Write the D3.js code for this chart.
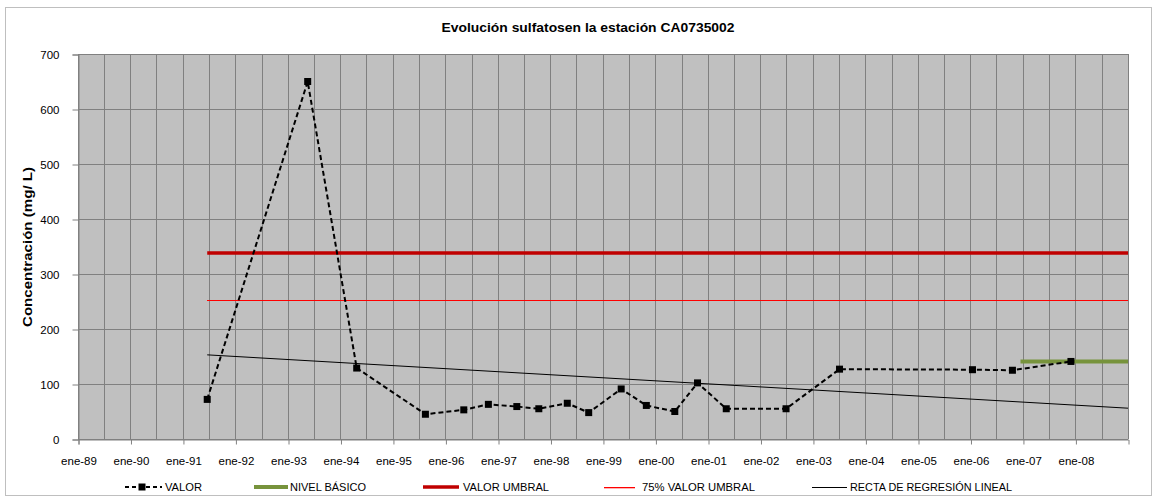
<!DOCTYPE html>
<html>
<head>
<meta charset="utf-8">
<script src="https://cdn.jsdelivr.net/npm/d3@7"></script>
<style>
  html, body { margin: 0; padding: 0; background: #ffffff; }
  svg { display: block; font-family: "Liberation Sans", Arial, sans-serif; }
</style>
</head>
<body>
<svg id="chart" width="1158" height="497"></svg>
<script>
// ---- data ----
const sampleDates = ["1991-06-19","1993-05-18","1994-04-24","1995-08-15","1996-05-08","1996-10-26",
  "1997-05-12","1997-10-12","1998-04-28","1998-09-24","1999-05-08","1999-10-30","2000-05-15",
  "2000-10-20","2001-05-08","2002-06-28","2003-07-05","2006-01-15","2006-10-20","2007-12-01"];
const sampleValues = [72, 650, 129, 45, 53, 63, 59, 55, 65, 48, 91, 61, 50, 102, 55, 55, 127, 126, 125, 141];
const umbralValue = 338;
const umbralDates = ["1991-06-19", "2009-01-01"];
const nivelBasicoValue = 141;
const nivelBasicoDates = ["2006-12-15", "2009-01-01"];
const regressionDates = ["1991-06-19", "2009-01-01"];
const regressionValues = [153, 56];
const xDomain = ["1989-01-01", "2009-01-01"];
const yTicks = [0, 100, 200, 300, 400, 500, 600, 700];
const legendLabels = ["VALOR", "NIVEL BÁSICO", "VALOR UMBRAL", "75% VALOR UMBRAL", "RECTA DE REGRESIÓN  LINEAL"];
const titleText = "Evolución sulfatosen la estación CA0735002";
const yTitle = "Concentración (mg/ L)";

const parse = d3.timeParse("%Y-%m-%d");
const svg = d3.select("#chart");

// outer frame
svg.append("rect").attr("x", 5.5).attr("y", 7.5).attr("width", 1146).attr("height", 488)
  .attr("fill", "#fff").attr("stroke", "#bfbfbf").attr("stroke-width", 1);

const L = 78, R = 1128, T = 54, B = 439;
const x = d3.scaleTime().domain(xDomain.map(parse)).range([L, R]);
const y = d3.scaleLinear().domain([0, 700]).range([B, T]);

// plot background
svg.append("rect").attr("x", L).attr("y", T).attr("width", R - L).attr("height", B - T).attr("fill", "#c0c0c0");

// vertical grid every 6 months
const gridDates = d3.timeMonth.every(6).range(x.domain()[0], d3.timeDay.offset(x.domain()[1], 1));
svg.append("g").selectAll("line").data(gridDates).join("line")
  .attr("x1", d => Math.round(x(d)) + 0.5).attr("x2", d => Math.round(x(d)) + 0.5)
  .attr("y1", T).attr("y2", B).attr("stroke", "#808080").attr("stroke-width", 1);

// horizontal grid
svg.append("g").selectAll("line").data(yTicks).join("line")
  .attr("x1", L).attr("x2", R)
  .attr("y1", d => Math.round(y(d)) + 0.5).attr("y2", d => Math.round(y(d)) + 0.5)
  .attr("stroke", "#808080").attr("stroke-width", 1);

// y axis
const yAxis = svg.append("g").attr("transform", `translate(${L + 0.5},0.5)`)
  .call(d3.axisLeft(y).tickValues(yTicks).tickSize(6).tickPadding(13).tickFormat(d3.format("d")));
yAxis.select(".domain").attr("stroke", "#808080");
yAxis.selectAll(".tick line").attr("stroke", "#808080");
yAxis.selectAll(".tick text").attr("font-size", 11.5).attr("fill", "#000")
  .attr("font-family", "Liberation Sans, Arial, sans-serif");

// x axis
const yearTicks = d3.timeYear.range(x.domain()[0], x.domain()[1]);
const esFmt = d => "ene-" + d3.timeFormat("%y")(d);
const xAxis = svg.append("g").attr("transform", `translate(0.5,${B + 0.5})`)
  .call(d3.axisBottom(x).tickValues(yearTicks).tickSize(5).tickPadding(12).tickFormat(esFmt));
xAxis.select(".domain").attr("stroke", "#808080");
xAxis.selectAll(".tick line").attr("stroke", "#808080");
xAxis.selectAll(".tick text").attr("font-size", 11.5).attr("fill", "#000")
  .attr("font-family", "Liberation Sans, Arial, sans-serif");

// threshold lines
const line = d3.line().x(d => x(d[0])).y(d => y(d[1]));
const crispLine = d3.line().x(d => x(d[0])).y(d => Math.round(y(d[1])) + 0.5);
svg.append("path").datum(umbralDates.map(d => [parse(d), umbralValue * 0.75]))
  .attr("d", crispLine).attr("stroke", "#ff0000").attr("stroke-width", 1).attr("fill", "none")
  .attr("shape-rendering", "crispEdges");
svg.append("path").datum(umbralDates.map(d => [parse(d), umbralValue]))
  .attr("d", line).attr("stroke", "#c00000").attr("stroke-width", 3.5).attr("fill", "none");
// regression
svg.append("path").datum(regressionDates.map((d, i) => [parse(d), regressionValues[i]]))
  .attr("d", line).attr("stroke", "#000").attr("stroke-width", 1).attr("fill", "none");
// nivel basico
svg.append("path").datum(nivelBasicoDates.map(d => [parse(d), nivelBasicoValue]))
  .attr("d", line).attr("stroke", "#77933c").attr("stroke-width", 4).attr("fill", "none");

// data series
const pts = sampleDates.map((d, i) => [parse(d), sampleValues[i]]);
svg.append("path").datum(pts).attr("d", line).attr("stroke", "#000").attr("stroke-width", 2)
  .attr("stroke-dasharray", "5,3").attr("fill", "none");
svg.append("g").selectAll("rect").data(pts).join("rect")
  .attr("x", d => x(d[0]) - 3.5).attr("y", d => y(d[1]) - 3.5).attr("width", 7).attr("height", 7)
  .attr("fill", "#000");

// title
svg.append("text").attr("x", 588).attr("y", 32).attr("text-anchor", "middle")
  .attr("font-size", 13.5).attr("font-weight", "bold").attr("textLength", 293)
  .attr("lengthAdjust", "spacingAndGlyphs").text(titleText);

// y title
svg.append("text").attr("transform", "translate(32,247) rotate(-90)").attr("text-anchor", "middle")
  .attr("font-size", 13.5).attr("font-weight", "bold").attr("textLength", 160)
  .attr("lengthAdjust", "spacingAndGlyphs").text(yTitle);

// legend
const leg = svg.append("g").attr("font-size", 11.5);
const ly = 487;
// VALOR
leg.append("line").attr("x1", 125).attr("x2", 162).attr("y1", ly).attr("y2", ly)
  .attr("stroke", "#000").attr("stroke-width", 2).attr("stroke-dasharray", "4,3");
leg.append("rect").attr("x", 138.5).attr("y", ly - 3.5).attr("width", 7).attr("height", 7).attr("fill", "#000");
leg.append("text").attr("x", 165).attr("y", ly + 4).attr("textLength", 37).attr("lengthAdjust", "spacingAndGlyphs").text(legendLabels[0]);
// NIVEL BASICO
leg.append("line").attr("x1", 254).attr("x2", 288).attr("y1", ly).attr("y2", ly)
  .attr("stroke", "#77933c").attr("stroke-width", 4);
leg.append("text").attr("x", 290).attr("y", ly + 4).attr("textLength", 76).attr("lengthAdjust", "spacingAndGlyphs").text(legendLabels[1]);
// VALOR UMBRAL
leg.append("line").attr("x1", 423).attr("x2", 459).attr("y1", ly).attr("y2", ly)
  .attr("stroke", "#c00000").attr("stroke-width", 3.5);
leg.append("text").attr("x", 463).attr("y", ly + 4).attr("textLength", 86).attr("lengthAdjust", "spacingAndGlyphs").text(legendLabels[2]);
// 75%
leg.append("rect").attr("x", 604).attr("y", ly).attr("width", 31).attr("height", 1.3)
  .attr("fill", "#ff0000");
leg.append("text").attr("x", 642).attr("y", ly + 4).attr("textLength", 113).attr("lengthAdjust", "spacingAndGlyphs").text(legendLabels[3]);
// regression
leg.append("rect").attr("x", 812).attr("y", ly).attr("width", 35).attr("height", 1)
  .attr("fill", "#000");
leg.append("text").attr("x", 850).attr("y", ly + 4).attr("textLength", 162).attr("lengthAdjust", "spacingAndGlyphs").text(legendLabels[4]);
</script>
</body>
</html>
